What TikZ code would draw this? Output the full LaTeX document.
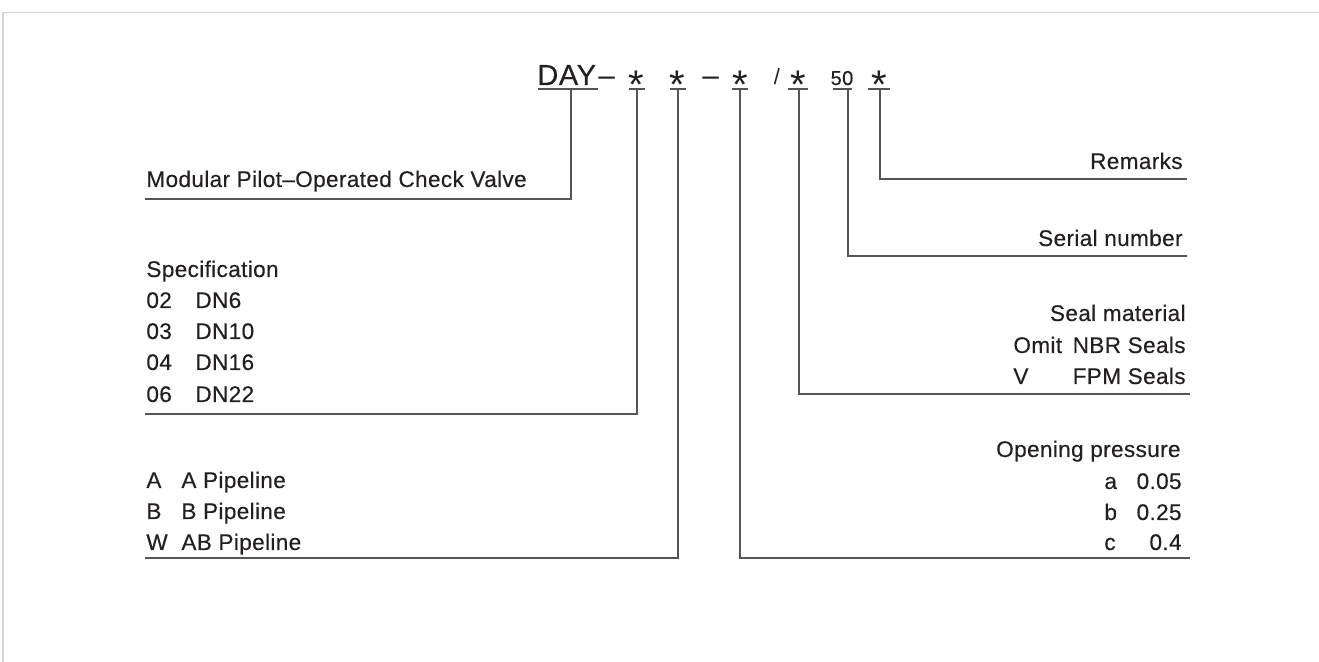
\documentclass[tikz,border=0pt]{standalone}
\usepackage{fontspec}
\setmainfont{Liberation Sans}
\newfontfamily\labelfont[LetterSpace=1.5, FakeBold=0.3]{Liberation Sans}
\newfontfamily\codefont[LetterSpace=2, FakeBold=0.3]{Liberation Sans}
\usetikzlibrary{positioning}
\definecolor{ink}{HTML}{231F20}
\definecolor{leadcolor}{HTML}{555555}
\definecolor{framecolor}{HTML}{D4D4D4}

\begin{document}
\begin{tikzpicture}[
    x=0.5pt, y=-0.5pt,
    %styles
    label text/.style={inner sep=0pt, text=ink, font=\labelfont\fontsize{11.3}{13}\selectfont},
    left text/.style={label text, anchor=base west},
    right text/.style={label text, anchor=base east},
    code text/.style={inner sep=0pt, text=ink, anchor=base west, font=\codefont\fontsize{14.5}{16}\selectfont},
    star text/.style={inner sep=0pt, text=ink, anchor=base, font=\fontsize{20}{20}\selectfont},
    leader/.style={leadcolor, line width=0.65pt},
  ]
  \useasboundingbox (0,0) rectangle (1319,662);
  %frame
  \draw[framecolor, line width=0.8pt] (3,662) -- (3,12.5) -- (1319,12.5);

  %model code
  \node[code text] (day) at (537,85) {DAY};
  \node[code text] (dash1) at (598,85) {–};
  \node[code text] (dash2) at (702,85) {–};
  \node[inner sep=0pt, text=ink, anchor=base, font=\fontsize{11}{11}\selectfont] (slash) at (777,85) {/};
  \node[inner sep=0pt, text=ink, anchor=base, font=\codefont\fontsize{10}{10}\selectfont] (serial) at (842,85) {50};
  \foreach \name/\x in {spec/636, pipe/677, press/740, seal/798, rem/879}
    \node[star text] (\name) at (\x,99) {*};
  \foreach \a/\b in {538/598, 629/645, 670/686, 732/748, 788/808, 833/852, 868/890}
    \draw[leader] (\a,89) -- (\b,89);

  %leader feet
  \coordinate (day-t) at (571,89);
  \coordinate (spec-t) at (637,89);
  \coordinate (pipe-t) at (678,89);
  \coordinate (press-t) at (740,89);
  \coordinate (seal-t) at (799,89);
  \coordinate (serial-t) at (848,89);
  \coordinate (rem-t) at (880,89);

  %left labels
  \node[left text] (modular) at (146,187) {Modular Pilot–Operated Check Valve};
  \coordinate (modular-line) at (145,199);

  \node[left text] (spec-title) at (146,277) {Specification};
  \foreach \i/\code/\dn/\yy in {1/02/DN6/308, 2/03/DN10/339, 3/04/DN16/370, 4/06/DN22/402} {
    \node[left text] (spec-code-\i) at (146,\yy) {\code};
    \node[left text] (spec-dn-\i) at (195,\yy) {\dn};
  }
  \coordinate (spec-line) at (145,414);

  \foreach \i/\key/\pipename/\yy in {1/A/A Pipeline/488, 2/B/B Pipeline/519, 3/W/AB Pipeline/550} {
    \node[left text] (pipe-key-\i) at (146,\yy) {\key};
    \node[left text] (pipe-name-\i) at (181,\yy) {\pipename};
  }
  \coordinate (pipe-line) at (145,558);

  %right labels
  \node[right text] (remarks) at (1183,169) {Remarks};
  \coordinate (rem-line) at (1187,179);

  \node[right text] (serial-no) at (1183,246) {Serial number};
  \coordinate (serial-line) at (1187,256);

  \node[right text] (seal-title) at (1186,321) {Seal material};
  \node[left text] (seal-key-1) at (1013,353) {Omit};
  \node[right text] (seal-name-1) at (1186,353) {NBR Seals};
  \node[left text] (seal-key-2) at (1013,384) {V};
  \node[right text] (seal-name-2) at (1186,384) {FPM Seals};
  \coordinate (seal-line) at (1190,394);

  \node[right text] (press-title) at (1181,457) {Opening pressure};
  \foreach \i/\key/\val/\yy in {1/a/0.05/489, 2/b/0.25/520, 3/c/0.4/550} {
    \node[left text] (press-key-\i) at (1104,\yy) {\key};
    \node[right text] (press-val-\i) at (1182,\yy) {\val};
  }
  \coordinate (press-line) at (1190,558);

  %leaders
  \draw[leader] (day-t) |- (modular-line);
  \draw[leader] (spec-t) |- (spec-line);
  \draw[leader] (pipe-t) |- (pipe-line);
  \draw[leader] (press-t) |- (press-line);
  \draw[leader] (seal-t) |- (seal-line);
  \draw[leader] (serial-t) |- (serial-line);
  \draw[leader] (rem-t) |- (rem-line);
\end{tikzpicture}
\end{document}
